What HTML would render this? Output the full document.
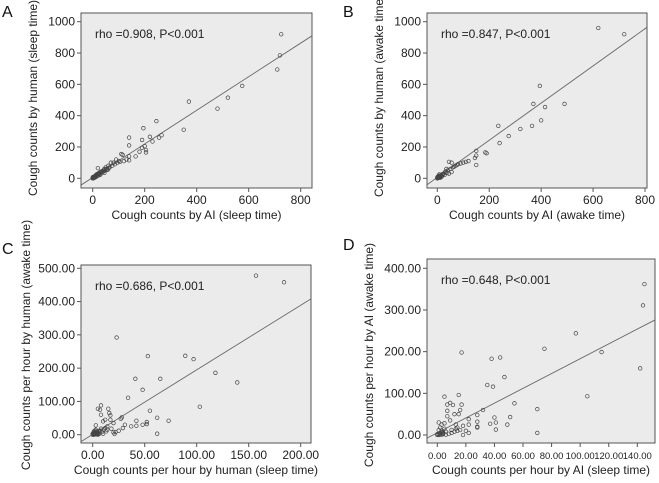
<!DOCTYPE html>
<html><head><meta charset="utf-8"><style>
body{margin:0;background:#fff;}
svg{display:block;font-family:"Liberation Sans",Arial,sans-serif;}
</style></head><body>
<svg id="fig" width="659" height="483" viewBox="0 0 659 483"></svg>
<script>
// ---- Panel A data ----
const aX = [725,720,710,575,520,480,370,350,245,195,140,140,220,230,255,265,190,190,200,205,205,180,165,140,140,110,115,100,90,80,70,60,50,45,40,35,30,25,20,15,20,10,5,3,0,2,8,12,30,45,55,65,75,85,95,105,120,130,1,4,6,9,14,18,22,26,33,38,42,48,52,58,62,0,1,2,3,5,7,9,11,13,16,19,24,28];
const aY = [920,785,695,590,515,445,490,310,365,320,260,210,265,235,260,275,245,195,205,180,165,170,140,140,115,155,150,110,120,100,100,80,70,60,50,45,40,35,30,25,65,15,10,5,0,3,12,20,25,35,55,70,80,90,100,105,110,120,2,6,10,12,18,22,28,30,38,40,45,50,60,55,65,4,8,0,6,3,9,5,15,10,20,14,25,22];
const aFit = [1.073, 5];
const aXTicks = [0,200,400,600,800];
const aYTicks = [0,200,400,600,800,1000];
// ---- Panel B data ----
const bX = [620,720,395,370,415,490,400,365,320,235,240,275,150,150,185,190,150,145,120,100,90,80,70,60,55,45,50,40,30,25,20,15,10,5,0,2,8,12,35,45,55,3,6,18,22,28,33,38,65,75,110,0,1,2,4,7,9,11,14,16];
const bY = [960,920,590,475,455,475,370,335,315,335,225,270,175,85,165,160,145,130,110,100,95,90,80,70,100,105,60,50,40,30,25,20,15,8,5,2,25,10,60,30,40,12,18,15,28,22,45,35,75,85,105,0,8,4,12,6,14,3,18,9];
const bFit = [1.187, 5.6];
const bXTicks = [0,200,400,600,800];
const bYTicks = [0,200,400,600,800,1000];
// ---- Panel C data ----
const cX = [157,184,23,53,89,97,118,139,41,65,48,34,103,55,73,62,62,52,52,48,42,42,37,31,29,28,27,20,20,21,17,17,16,15,8,7,5,8,10,12,12,14,14,3,0,1,2,3,4,5,6,7,9,10,11,13,18,22,25,1,2,3,4,5,6,2,3,1,4,6,8,0,1,2,3,4,5];
const cY = [478,458,292,236,237,227,186,157,168,168,135,111,84,72,42,51,3,38,32,30,42,27,25,30,20,52,48,35,7,2,45,58,65,78,88,75,78,60,40,45,20,15,25,28,0,5,8,3,10,5,2,12,8,3,15,10,18,8,12,2,1,6,4,7,3,12,15,9,2,11,18,3,0,4,1,6,0];
const cFit = [1.94, 0.9];
const cXTicks = [0,50,100,150,200];
const cYTicks = [0,100,200,300,400,500];
// ---- Panel D data ----
const dX = [145,144,97,115,142,75,17,38,44,47,35,39,105,15,5,54,70,70,51,49,40,41,41,37,32,28,28,28,28,22,22,22,18,17,16,15,11,9,7,7,7,9,12,13,13,14,10,1,0,2,3,4,5,6,8,10,12,14,16,18,20,3,5,1,2,1,2,3,4,6,0,1,2,3,4];
const dY = [362,311,244,199,160,207,198,183,186,139,120,116,93,96,92,76,62,5,43,25,42,13,30,27,60,48,32,18,20,38,25,5,0,73,60,50,72,77,73,58,45,35,50,25,15,10,5,30,0,5,10,2,15,8,3,12,8,18,12,22,10,25,28,12,18,3,1,6,4,1,2,0,4,1,7];
const dFit = [1.777, 5.3];
const dXTicks = [0,20,40,60,80,100,120,140];
const dYTicks = [0,100,200,300,400];

const NS = "http://www.w3.org/2000/svg";
const svg = document.getElementById('fig');
function mk(tag, attrs, parent){
  const e = document.createElementNS(NS, tag);
  for (const k in attrs) e.setAttribute(k, attrs[k]);
  (parent||svg).appendChild(e);
  return e;
}
function panel(p){
  const g = mk('g', {});
  
  
  const sx = v => p.x0 + (v - p.dx0) * (p.x1 - p.x0) / (p.dx1 - p.dx0);
  const sy = v => p.y0 - (v - p.dy0) * (p.y0 - p.y1) / (p.dy1 - p.dy0);
  const bg = mk('rect', {x:p.bl, y:p.bt, width:p.br-p.bl, height:p.bb-p.bt, fill:'#ebebeb', stroke:'#555', 'stroke-width':1}, g);
  
  
  const cp = mk('clipPath', {id:'clip'+p.id}, g);
  mk('rect', {x:p.bl, y:p.bt, width:p.br-p.bl, height:p.bb-p.bt}, cp);
  p.xt.forEach(t => {
    const X = sx(t);
    const tk = mk('line', {x1:X, x2:X, y1:p.bb, y2:p.bb+4, stroke:'#555'}, g);
    
    
    const tx = mk('text', {x:X, y:p.bb+16, 'text-anchor':'middle', 'font-size':p.fs, fill:'#222'}, g);
    tx.textContent = p.fmt(t);
    
    
  });
  p.yt.forEach(t => {
    const Y = sy(t);
    const tk = mk('line', {x1:p.bl-4, x2:p.bl, y1:Y, y2:Y, stroke:'#555'}, g);
    
    
    const tx = mk('text', {x:p.bl-6, y:Y+4, 'text-anchor':'end', 'font-size':12, fill:'#222'}, g);
    tx.textContent = p.fmt(t);
    
    
  });
  const xa = p.dx0 + (p.bl - p.x0) * (p.dx1 - p.dx0) / (p.x1 - p.x0);
  const xb = p.dx0 + (p.br - p.x0) * (p.dx1 - p.dx0) / (p.x1 - p.x0);
  const fl = mk('line', {x1:sx(xa), y1:sy(p.fit[0]*xa+p.fit[1]), x2:sx(xb), y2:sy(p.fit[0]*xb+p.fit[1]), stroke:'#666', 'stroke-width':0.9, 'clip-path':'url(#clip'+p.id+')'}, g);
  
  
  p.xs.forEach((v, i) => {
    const c = mk('circle', {cx:sx(v), cy:sy(p.ys[i]), r:1.8, fill:'none', stroke:'#444', 'stroke-width':0.7}, g);
    
    
  });
  const st = mk('text', {x:p.bl+14, y:p.bt+25, 'font-size':12, fill:'#222'}, g);
  st.textContent = p.stat;
  
  
  const xt = mk('text', {x:(p.bl+p.br)/2, y:p.bb+31, 'text-anchor':'middle', 'font-size':12, fill:'#222'}, g);
  xt.textContent = p.xtitle;
  
  
  const yt = mk('text', {x:0, y:0, 'text-anchor':'middle', 'font-size':12, fill:'#222', transform:'translate('+p.ytx+','+p.ytc+') rotate(-90)'}, g);
  yt.textContent = p.ytitle;
  
  
  const lt = mk('text', {x:p.lx, y:p.ly, 'font-size':16, fill:'#111'}, g);
  lt.textContent = p.id;
  
  
}
const f0 = v => String(v), f2 = v => v.toFixed(2);
panel({id:'A', bl:81, br:312, bt:13, bb:188, x0:92.7, x1:300.7, dx0:0, dx1:800, y0:178.3, y1:21.7, dy0:0, dy1:1000,
  xs:aX, ys:aY, fit:aFit, xt:aXTicks, yt:aYTicks, fmt:f0, fs:12, stat:'rho =0.908, P<0.001',
  xtitle:'Cough counts by AI (sleep time)', ytitle:'Cough counts by human (sleep time)', ytx:37, ytc:98, lx:2, ly:17});
panel({id:'B', bl:427, br:647, bt:13, bb:188, x0:437.3, x1:645, dx0:0, dx1:800, y0:178.3, y1:21.7, dy0:0, dy1:1000,
  xs:bX, ys:bY, fit:bFit, xt:bXTicks, yt:bYTicks, fmt:f0, fs:12, stat:'rho =0.847, P<0.001',
  xtitle:'Cough counts by AI (awake time)', ytitle:'Cough counts by human (awake time)', ytx:383, ytc:96, lx:343, ly:17});
panel({id:'C', bl:81, br:311, bt:265, bb:443, x0:92.7, x1:300.7, dx0:0, dx1:200, y0:434.7, y1:268.3, dy0:0, dy1:500,
  xs:cX, ys:cY, fit:cFit, xt:cXTicks, yt:cYTicks, fmt:f2, fs:12, stat:'rho =0.686, P<0.001',
  xtitle:'Cough counts per hour by human (sleep time)', ytitle:'Cough counts per hour by human (awake time)', ytx:30, ytc:345, lx:2, ly:254});
panel({id:'D', bl:427, br:655, bt:259, bb:443, x0:437.3, x1:637.3, dx0:0, dx1:140, y0:435, y1:268.3, dy0:0, dy1:400,
  xs:dX, ys:dY, fit:dFit, xt:dXTicks, yt:dYTicks, fmt:f2, fs:9.5, stat:'rho =0.648, P<0.001',
  xtitle:'Cough counts per hour by AI (sleep time)', ytitle:'Cough counts per hour by AI (awake time)', ytx:373, ytc:355, lx:343, ly:250});
</script>
</body></html>
